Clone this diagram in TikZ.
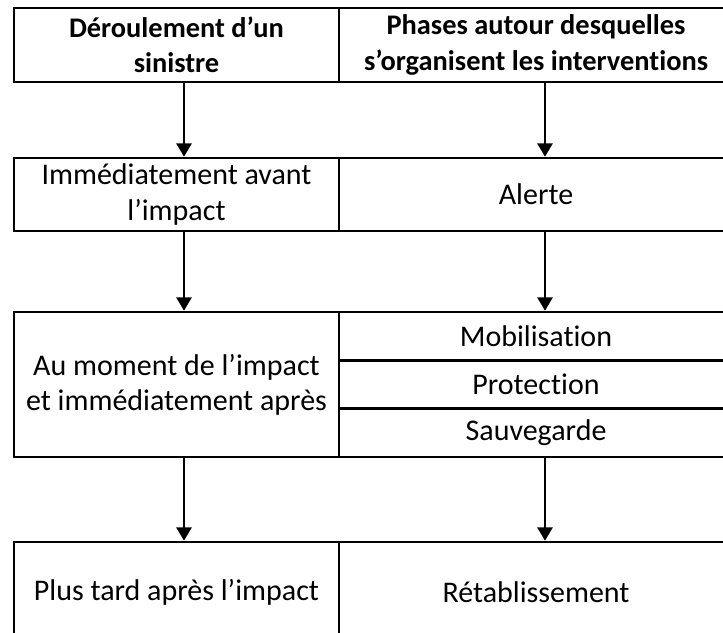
\documentclass[tikz,border=0pt]{standalone}
\usepackage{fontspec}
\setmainfont{Carlito}[Ligatures={NoCommon,NoDiscretionary}]
\usetikzlibrary{positioning,arrows.meta}

\tikzset{
  case/.style={draw, line width=2pt, inner sep=0pt, outer sep=0pt, align=center, font=\fontsize{22.5}{26.5}\selectfont},
  tete/.style={case, font=\fontsize{21.3}{26.5}\selectfont\bfseries},
  gauche/.style={minimum width=325*0.75pt, anchor=north west},
  droite/.style={minimum width=394*0.75pt, anchor=west},
  fleche/.style={line width=1.4pt, shorten >=1pt, -{Triangle[length=10pt,width=11.5pt]}}
}

\begin{document}
\begin{tikzpicture}[x=0.75pt,y=-0.75pt]
    \useasboundingbox (0,0) rectangle (723,632);
    \clip (0,0) rectangle (723,632);

    \coordinate (ca) at (184,0);
    \coordinate (cb) at (545,0);

    \node[tete, gauche, minimum height=74*0.75pt] (sinistre) at (14,8) {D\'eroulement d’un\\sinistre};
    \node[tete, droite, minimum height=74*0.75pt, right=0pt of sinistre] (phases) {Phases autour desquelles\\s’organisent les interventions};

    \node[case, gauche, minimum height=73*0.75pt] (avant) at (14,158) {Imm\'ediatement avant\\l’impact};
    \node[case, droite, minimum height=73*0.75pt, right=0pt of avant] (alerte) {Alerte};

    \node[case, gauche, minimum height=145*0.75pt] (moment) at (14,312) {Au moment de l’impact\\et imm\'ediatement apr\`es};
    \node[case, droite, anchor=north west, minimum height=145/3*0.75pt] (mobil) at (339,312) {Mobilisation};
    \node[case, droite, minimum height=145/3*0.75pt, below=0pt of mobil] (protec) {Protection};
    \node[case, droite, minimum height=145/3*0.75pt, below=0pt of protec] (sauveg) {Sauvegarde};

    \node[case, gauche, minimum height=100*0.75pt] (tard) at (14,542) {Plus tard apr\`es l’impact};
    \node[case, droite, minimum height=100*0.75pt, right=0pt of tard] (retab) {R\'etablissement};

    \draw[fleche] (sinistre.south -| ca) -- (avant.north -| ca);
    \draw[fleche] (phases.south -| cb) -- (alerte.north -| cb);
    \draw[fleche] (avant.south -| ca) -- (moment.north -| ca);
    \draw[fleche] (alerte.south -| cb) -- (mobil.north -| cb);
    \draw[fleche] (moment.south -| ca) -- (tard.north -| ca);
    \draw[fleche] (sauveg.south -| cb) -- (retab.north -| cb);
\end{tikzpicture}
\end{document}
